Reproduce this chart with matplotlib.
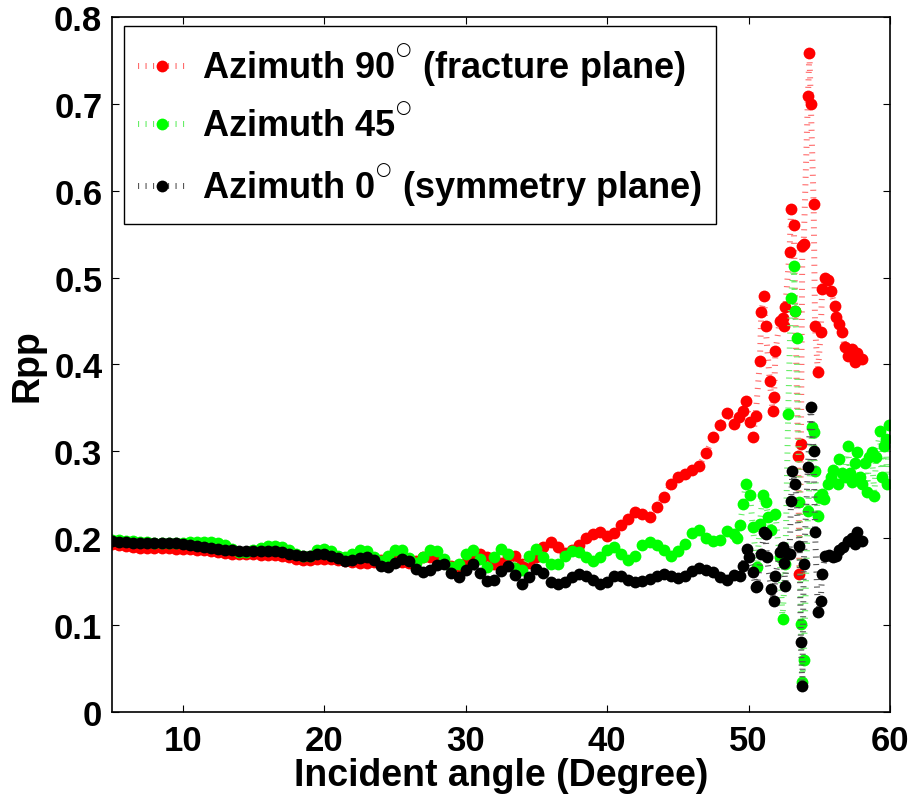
import numpy as np
import matplotlib
matplotlib.use("Agg")
import matplotlib.pyplot as plt

plt.rcParams["font.family"] = ["Liberation Sans", "DejaVu Sans"]
plt.rcParams["font.weight"] = "bold"
plt.rcParams["lines.scale_dashes"] = False

# incident angles of the smooth part (0.5 degree sampling)
angle_grid = np.arange(5.0, 49.01, 0.5)

# Azimuth 90 (fracture plane)
red_smooth = [0.193, 0.192, 0.191, 0.190, 0.189, 0.189, 0.189, 0.189, 0.189, 0.188,
              0.188, 0.188, 0.187, 0.186, 0.185, 0.184, 0.183, 0.182, 0.182, 0.182,
              0.182, 0.181, 0.181, 0.181, 0.180, 0.178, 0.176, 0.175, 0.175, 0.176,
              0.176, 0.176, 0.175, 0.174, 0.173, 0.172, 0.172, 0.173, 0.175, 0.176,
              0.175, 0.173, 0.172, 0.174, 0.178, 0.178, 0.176, 0.172, 0.168, 0.165,
              0.172, 0.178, 0.182, 0.178, 0.170, 0.172, 0.180, 0.180, 0.170, 0.172,
              0.178, 0.190, 0.196, 0.190, 0.183, 0.186, 0.192, 0.200, 0.205, 0.207,
              0.202, 0.206, 0.215, 0.222, 0.230, 0.228, 0.225, 0.236, 0.248, 0.262,
              0.270, 0.274, 0.278, 0.283, 0.298, 0.316, 0.330, 0.344, 0.331]
red_tail_x = [49.3, 49.6, 49.8, 50.1, 50.3, 50.5, 50.8, 50.9, 51.1, 51.2,
              51.5, 51.7, 51.8, 51.9, 52.2, 52.4, 52.5, 52.6, 52.9, 53.0,
              53.2, 53.3, 53.5, 53.6, 53.7, 53.8, 53.9, 54.2, 54.3, 54.4,
              54.6, 54.7, 54.9, 55.1, 55.2, 55.4, 55.6, 55.8, 56.1, 56.2,
              56.4, 56.6, 56.8, 57.0, 57.3, 57.5, 57.7, 58.0]
red_tail_y = [0.340, 0.347, 0.358, 0.334, 0.316, 0.341, 0.404, 0.460, 0.479, 0.444,
              0.381, 0.346, 0.362, 0.415, 0.450, 0.454, 0.444, 0.466, 0.530, 0.579,
              0.560, 0.462, 0.295, 0.159, 0.308, 0.536, 0.539, 0.709, 0.759, 0.700,
              0.585, 0.444, 0.391, 0.437, 0.487, 0.500, 0.497, 0.485, 0.467, 0.455,
              0.447, 0.437, 0.420, 0.410, 0.418, 0.403, 0.413, 0.406]

# Azimuth 45
green_smooth = [0.198, 0.198, 0.197, 0.197, 0.196, 0.196, 0.195, 0.195, 0.195, 0.195,
                0.195, 0.196, 0.196, 0.196, 0.196, 0.195, 0.192, 0.188, 0.184, 0.184,
                0.186, 0.189, 0.191, 0.191, 0.190, 0.186, 0.182, 0.179, 0.180, 0.186,
                0.188, 0.185, 0.180, 0.178, 0.182, 0.186, 0.185, 0.178, 0.174, 0.180,
                0.187, 0.186, 0.177, 0.172, 0.178, 0.186, 0.185, 0.176, 0.167, 0.170,
                0.182, 0.186, 0.176, 0.167, 0.178, 0.188, 0.182, 0.166, 0.163, 0.180,
                0.188, 0.178, 0.170, 0.170, 0.180, 0.185, 0.184, 0.178, 0.174, 0.178,
                0.187, 0.190, 0.182, 0.175, 0.180, 0.192, 0.196, 0.192, 0.186, 0.180,
                0.185, 0.193, 0.206, 0.209, 0.200, 0.197, 0.198, 0.208, 0.205]
green_tail_x = [49.2, 49.4, 49.6, 49.8, 50.1, 50.3, 50.6, 50.8, 51.0, 51.2,
                51.4, 51.6, 51.9, 52.2, 52.4, 52.6, 52.8, 53.0, 53.2, 53.3,
                53.4, 53.6, 53.7, 53.8, 53.9, 54.2, 54.5, 54.6, 54.7, 54.9,
                55.0, 55.2, 55.3, 55.6, 55.8, 56.0, 56.3, 56.4, 56.6, 56.8,
                57.0, 57.2, 57.3, 57.5, 57.7, 57.9, 58.0, 58.2, 58.4, 58.5,
                58.7, 58.9, 59.0, 59.3, 59.4, 59.6, 59.7, 59.8, 59.9]
green_tail_y = [0.200, 0.215, 0.239, 0.262, 0.250, 0.213, 0.167, 0.216, 0.250, 0.242,
                0.225, 0.210, 0.228, 0.178, 0.107, 0.170, 0.343, 0.477, 0.513, 0.461,
                0.430, 0.242, 0.101, 0.034, 0.060, 0.231, 0.328, 0.322, 0.277, 0.226,
                0.247, 0.251, 0.245, 0.262, 0.270, 0.279, 0.262, 0.291, 0.275, 0.270,
                0.306, 0.275, 0.265, 0.287, 0.299, 0.270, 0.262, 0.287, 0.253, 0.293,
                0.299, 0.249, 0.293, 0.323, 0.270, 0.306, 0.314, 0.262, 0.330]

# Azimuth 0 (symmetry plane)
black_smooth = [0.197, 0.196, 0.196, 0.195, 0.195, 0.195, 0.194, 0.194, 0.194, 0.194,
                0.193, 0.192, 0.191, 0.190, 0.189, 0.188, 0.187, 0.186, 0.185, 0.185,
                0.185, 0.185, 0.185, 0.185, 0.184, 0.182, 0.181, 0.180, 0.180, 0.182,
                0.182, 0.180, 0.177, 0.174, 0.175, 0.177, 0.178, 0.175, 0.168, 0.167,
                0.172, 0.176, 0.174, 0.165, 0.161, 0.164, 0.169, 0.170, 0.160, 0.155,
                0.163, 0.170, 0.160, 0.151, 0.152, 0.162, 0.168, 0.158, 0.147, 0.155,
                0.165, 0.160, 0.150, 0.147, 0.150, 0.155, 0.159, 0.157, 0.152, 0.147,
                0.150, 0.157, 0.156, 0.152, 0.150, 0.151, 0.153, 0.156, 0.159, 0.157,
                0.154, 0.156, 0.162, 0.166, 0.164, 0.161, 0.155, 0.152, 0.158]
black_tail_x = [49.4, 49.6, 49.9, 50.0, 50.3, 50.5, 50.6, 50.9, 51.1, 51.2,
                51.3, 51.6, 51.8, 51.9, 52.2, 52.4, 52.5, 52.6, 52.7, 52.9,
                53.0, 53.1, 53.3, 53.6, 53.7, 53.8, 53.9, 54.2, 54.4, 54.6,
                54.7, 54.9, 55.1, 55.2, 55.4, 55.7, 56.0, 56.2, 56.4, 56.7,
                57.0, 57.3, 57.5, 57.7, 58.0]
black_tail_y = [0.157, 0.168, 0.188, 0.178, 0.161, 0.144, 0.145, 0.182, 0.207, 0.205,
                0.178, 0.141, 0.128, 0.157, 0.184, 0.190, 0.171, 0.145, 0.183, 0.182,
                0.243, 0.277, 0.263, 0.191, 0.080, 0.030, 0.170, 0.282, 0.351, 0.300,
                0.207, 0.115, 0.128, 0.159, 0.180, 0.181, 0.178, 0.180, 0.186, 0.190,
                0.197, 0.200, 0.193, 0.207, 0.197]

labels = [r"Azimuth 90$^{^{\bigcirc}}$ (fracture plane)",
          r"Azimuth 45$^{^{\bigcirc}}$",
          r"Azimuth 0$^{^{\bigcirc}}$ (symmetry plane)"]
series = [(red_smooth, red_tail_x, red_tail_y, "#ff0000", "#ff6a6a"),
          (green_smooth, green_tail_x, green_tail_y, "#00ff00", "#66ee66"),
          (black_smooth, black_tail_x, black_tail_y, "#000000", "#555555")]

fig = plt.figure(figsize=(9.15, 8.03), dpi=100)
ax = fig.add_axes([0.1224, 0.1121, 0.8503, 0.8655])

for (smooth, tx, ty, col, lcol), lab in zip(series, labels):
    x = np.concatenate([angle_grid, tx])
    y = np.concatenate([smooth, ty])
    ax.plot(x, y, color=lcol, linestyle=(0, (0.8, 4.6)), linewidth=4.3,
            dash_capstyle="butt", marker="o", markersize=8.5,
            markerfacecolor=col, markeredgecolor=col, markeredgewidth=0,
            label=lab)

ax.set_xlim(5, 60)
ax.set_ylim(0, 0.8)
ax.set_xticks([10, 20, 30, 40, 50, 60])
ax.set_yticks(np.arange(0, 0.81, 0.1))
ax.set_yticklabels(["0", "0.1", "0.2", "0.3", "0.4", "0.5", "0.6", "0.7", "0.8"])
ax.tick_params(direction="in", length=5, width=0.8, top=True, right=True,
               labelsize=25, pad=7)
ax.tick_params(axis="x", pad=9)
for s in ax.spines.values():
    s.set_linewidth(1.2)

ax.set_xlabel("Incident angle (Degree)", fontsize=27, fontweight="bold", labelpad=0)
ax.set_ylabel("Rpp", fontsize=27, fontweight="bold", labelpad=6)

leg = ax.legend(loc="upper left", bbox_to_anchor=(0.0154, 0.987), borderaxespad=0,
                fontsize=26, frameon=True, fancybox=False, framealpha=1,
                edgecolor="black", handlelength=1.3, handletextpad=0.45,
                labelspacing=0.45, borderpad=0.4)
leg.get_frame().set_linewidth(1.0)

fig.savefig("out.png", dpi=100)
